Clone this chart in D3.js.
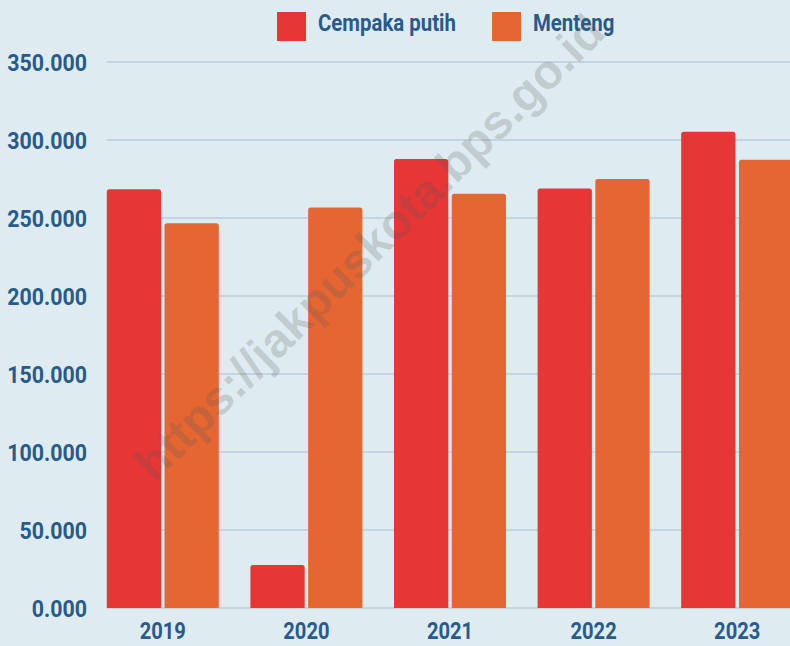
<!DOCTYPE html>
<html>
<head>
<meta charset="utf-8">
<script src="https://cdn.jsdelivr.net/npm/d3@7"></script>
<style>
  html, body { margin: 0; padding: 0; background: #deecf1; }
  svg { display: block; }
  .lbl { font-family: "Roboto", "DejaVu Sans Condensed", sans-serif; font-weight: bold; fill: #285a8c; }
</style>
</head>
<body>
<script>
const years = ["2019", "2020", "2021", "2022", "2023"];
const seriesNames = ["Cempaka putih", "Menteng"];
const cempakaPutih = [268400, 27600, 287800, 268900, 305300];
const menteng = [246600, 256800, 265500, 275000, 287400];
const colors = ["#e63635", "#e66632"];
const yTickValues = [0, 50000, 100000, 150000, 200000, 250000, 300000, 350000];
const yTickLabels = ["0.000", "50.000", "100.000", "150.000", "200.000", "250.000", "300.000", "350.000"];
const watermark = "https://jakpuskota.bps.go.id";

const W = 790, H = 646;
const svg = d3.select("body").append("svg").attr("width", W).attr("height", H);
svg.append("rect").attr("width", W).attr("height", H).attr("fill", "#deecf1");

const y = d3.scaleLinear().domain([0, 350000]).range([608, 62]);
const x0 = d3.scaleBand().domain(years).range([91, 809]).paddingInner(0.22).paddingOuter(0.11);
const x1 = d3.scaleBand().domain(seriesNames).range([0, x0.bandwidth()]).paddingInner(0.06);

const gridX0 = x0(years[0]);

// gridlines
svg.append("g").selectAll("line").data(yTickValues).join("line")
  .attr("x1", gridX0).attr("x2", W)
  .attr("y1", d => y(d)).attr("y2", d => y(d))
  .attr("stroke", "#c3d5de").attr("stroke-width", 2);

// y labels
const yAxis = d3.axisLeft(y).tickValues(yTickValues).tickFormat((d, i) => yTickLabels[i]).tickSize(0).tickPadding(0);
const ya = svg.append("g").attr("transform", "translate(87,0)").call(yAxis);
ya.select(".domain").remove();
ya.selectAll("text").attr("class", "lbl").attr("font-size", 24)
  .attr("x", 0).attr("dy", "0.36em").attr("fill", null)
  .attr("transform", "scale(0.89,1)");

// bars
const data = years.map((yr, i) => ({ year: yr, values: [
  { key: seriesNames[0], v: cempakaPutih[i] },
  { key: seriesNames[1], v: menteng[i] }
]}));

function barPath(x, top, w, bottom, r) {
  return `M${x},${bottom}V${top + r}Q${x},${top} ${x + r},${top}H${x + w - r}Q${x + w},${top} ${x + w},${top + r}V${bottom}Z`;
}

const groups = svg.append("g").selectAll("g").data(data).join("g")
  .attr("transform", d => `translate(${x0(d.year)},0)`);
groups.selectAll("path").data(d => d.values).join("path")
  .attr("d", d => barPath(x1(d.key), y(d.v), x1.bandwidth(), y(0), 2.5))
  .attr("fill", (d, i) => colors[i]);

// x labels
const xAxis = d3.axisBottom(x0).tickSize(0).tickPadding(0);
const xa = svg.append("g").attr("transform", "translate(0,639)").call(xAxis);
xa.select(".domain").remove();
xa.selectAll("text").attr("class", "lbl").attr("font-size", 24).attr("y", 0).attr("dy", 0).attr("fill", null)
  .attr("transform", "scale(0.84,1)");

// legend
const legX = [277, 492];
const leg = svg.append("g").selectAll("g").data(seriesNames).join("g")
  .attr("transform", (d, i) => `translate(${legX[i]},12)`);
leg.append("rect").attr("width", 29).attr("height", 29).attr("fill", (d, i) => colors[i]);
leg.append("text").attr("class", "lbl").attr("font-size", 24)
  .attr("transform", "translate(41,19) scale(0.85,1)")
  .text(d => d);

// watermark
svg.append("text")
  .attr("transform", "translate(369,247) rotate(-44.7)")
  .attr("text-anchor", "middle").attr("dy", "0.35em")
  .attr("font-family", "'Liberation Sans', Arial, sans-serif").attr("font-weight", "bold")
  .attr("font-size", 48).attr("fill", "#5a5a5a").attr("fill-opacity", 0.22)
  .text(watermark);
</script>
</body>
</html>
